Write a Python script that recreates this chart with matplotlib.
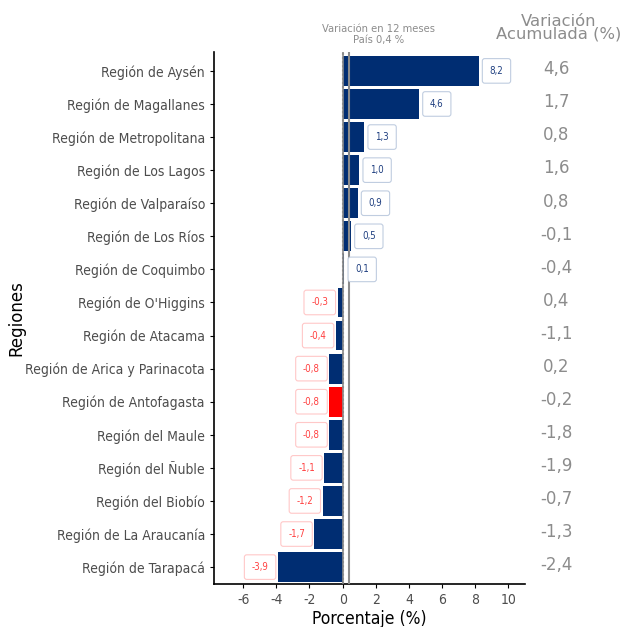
import numpy as np
import matplotlib.pyplot as plt

regiones = ["Región de Aysén", "Región de Magallanes", "Región de Metropolitana",
            "Región de Los Lagos", "Región de Valparaíso", "Región de Los Ríos",
            "Región de Coquimbo", "Región de O'Higgins", "Región de Atacama",
            "Región de Arica y Parinacota", "Región de Antofagasta", "Región del Maule",
            "Región del Ñuble", "Región del Biobío", "Región de La Araucanía",
            "Región de Tarapacá"]
var_12m = [8.2, 4.6, 1.3, 1.0, 0.9, 0.5, 0.1, -0.3, -0.4, -0.8, -0.8, -0.8,
           -1.1, -1.2, -1.7, -3.9]
var_acum = [4.6, 1.7, 0.8, 1.6, 0.8, -0.1, -0.4, 0.4, -1.1, 0.2, -0.2, -1.8,
            -1.9, -0.7, -1.3, -2.4]
pais = 0.4
destacada = "Región de Antofagasta"

azul = "#002D72"
rojo = "#FF0000"
gris = "#8c8c8c"

def coma(v):
    return ("%.1f" % v).replace(".", ",")

fig = plt.figure(figsize=(6.23, 6.27), dpi=100)
ax = fig.add_axes([0.3435, 0.0686, 0.4992, 0.8484])

n = len(regiones)
y = np.arange(n)[::-1] + 1

ax.axvline(0, color=gris, lw=1.5, ls=(0, (1, 1)), zorder=1)
colores = [rojo if r == destacada else azul for r in regiones]
ax.barh(y, var_12m, height=0.9, color=colores, zorder=2)
ax.axvline(0, color=gris, lw=1.2, zorder=3)
ax.axvline(pais, color=gris, lw=1.5, zorder=3)

# etiquetas con recuadro
for yi, v in zip(y, var_12m):
    if v >= 0:
        ax.text(v + 1.08, yi, coma(v), ha="center", va="center", fontsize=7,
                color="#1f3f80", zorder=4, fontstretch="condensed",
                bbox=dict(boxstyle="round,pad=0.75,rounding_size=0.25", fc="white",
                          ec="#c0cde0", lw=0.8))
    else:
        ax.text(v - 1.08, yi, coma(v), ha="center", va="center", fontsize=7,
                color="#ff4040", zorder=4, fontstretch="condensed",
                bbox=dict(boxstyle="round,pad=0.75,rounding_size=0.25", fc="white",
                          ec="#ffc8c8", lw=0.8))

# columna de variación acumulada
for yi, v in zip(y, var_acum):
    ax.text(12.9, yi + 0.05, coma(v), ha="center", va="center", fontsize=12,
            color=gris, clip_on=False)
fig.text(0.896, 0.956, "Variación\nAcumulada (%)", ha="center", va="center",
         fontsize=11.8, color=gris, linespacing=0.8, multialignment="center")

fig.text(0.607, 0.945, "Variación en 12 meses\nPaís 0,4 %", ha="center", va="center",
         fontsize=8, color=gris, linespacing=1.05, fontstretch="condensed")

ax.set_xlim(-7.76, 11.0)
ax.set_ylim(0.49, n + 0.57)
ax.set_xticks(np.arange(-6, 11, 2))
ax.set_xticklabels([str(t) for t in range(-6, 11, 2)], fontstretch="condensed")
ax.set_yticks(y)
ax.set_yticklabels(regiones, fontstretch="condensed")
ax.tick_params(axis="both", colors="#4d4d4d", labelsize=10, length=3)
ax.tick_params(axis="both", color="black")
ax.spines["top"].set_visible(False)
ax.spines["right"].set_visible(False)
ax.spines["left"].set_linewidth(1.2)
ax.spines["bottom"].set_linewidth(1.2)

ax.set_xlabel("Porcentaje (%)", fontsize=12.5, labelpad=2, fontstretch="condensed")
ax.set_ylabel("Regiones", fontsize=12, labelpad=0)

plt.savefig("out.png", dpi=100)
